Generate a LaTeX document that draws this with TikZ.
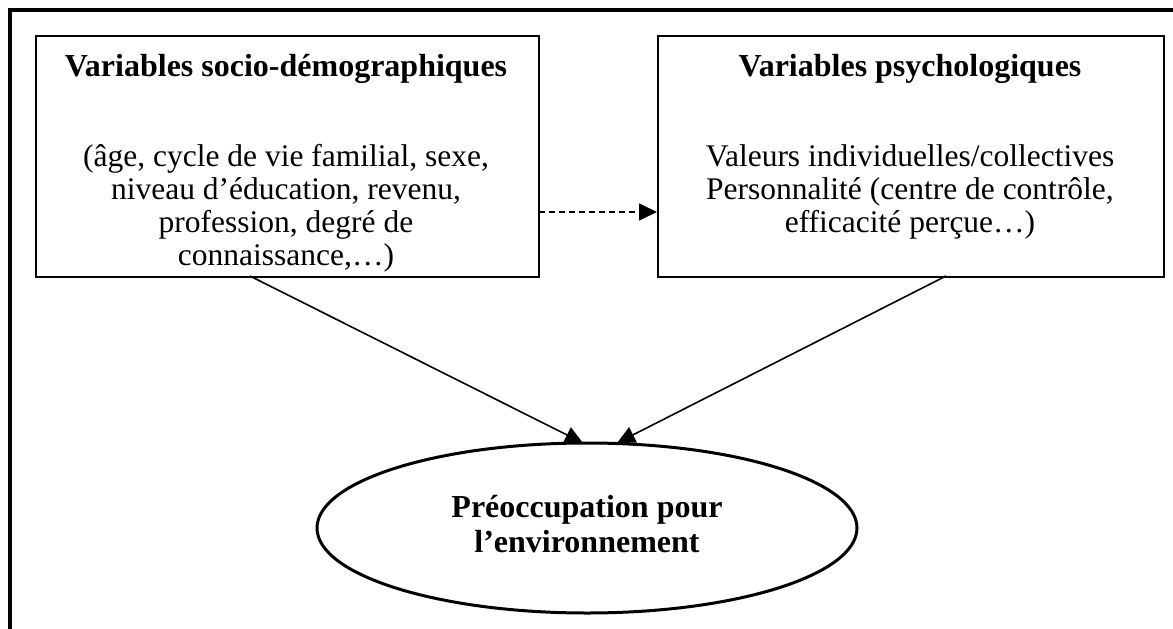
\documentclass[tikz,border=0pt]{standalone}
\usepackage{fontspec}
\setmainfont{Liberation Serif}
\usetikzlibrary{arrows.meta,shapes.geometric}
\begin{document}
\begin{tikzpicture}[x=1pt,y=-1pt,
  box/.style={draw,line width=2pt,anchor=north west,inner sep=0pt,minimum height=241pt},
  ttl/.style={font=\fontsize{32}{36}\selectfont\bfseries,anchor=base,inner sep=0pt},
  txt/.style={font=\fontsize{31.5}{35}\selectfont,anchor=base,inner sep=0pt},
  ell/.style={draw,ellipse,line width=3pt,minimum width=540pt,minimum height=170pt,inner sep=0pt},
  conn/.style={line width=1.6pt,-{Triangle[length=18pt,width=17pt]}},
  dconn/.style={line width=1.6pt,dash pattern=on 6pt off 4pt,-{Triangle[length=18pt,width=17pt]}}]
\useasboundingbox (0,0) rectangle (1173,629);
\draw[line width=4pt] (10,640) -- (10,10) -- (1190,10);
% boxes
\node[box,minimum width=503pt] (L) at (35,35) {};
\node[box,minimum width=506pt] (R) at (657,35) {};
% left text
\node[ttl] (Lt) at (286,76) {Variables socio-démographiques};
\node[txt] (L1) at (286,166) {(âge, cycle de vie familial, sexe,};
\node[txt] (L2) at (286,199) {niveau d’éducation, revenu,};
\node[txt] (L3) at (286,232) {profession, degré de};
\node[txt] (L4) at (286,265) {connaissance,…)};
% right text
\node[ttl] (Rt) at (910,76) {Variables psychologiques};
\node[txt] (R1) at (910,166) {Valeurs individuelles/collectives};
\node[txt] (R2) at (910,199) {Personnalité (centre de contrôle,};
\node[txt] (R3) at (910,232) {efficacité perçue…)};
% ellipse
\node[ell] (E) at (587,528) {};
\node[ttl] (E1) at (587,517) {Préoccupation pour};
\node[ttl] (E2) at (587,552) {l’environnement};
% connectors
\coordinate (ls) at (250,276);
\coordinate (rs) at (946,276);
\coordinate (le) at (583,443);
\coordinate (re) at (617,443);
\draw[conn] (ls) -- (le);
\draw[conn] (rs) -- (re);
\coordinate (ds) at (539,212);
\draw[dconn] (ds) -- (ds -| R.west);
\end{tikzpicture}
\end{document}
